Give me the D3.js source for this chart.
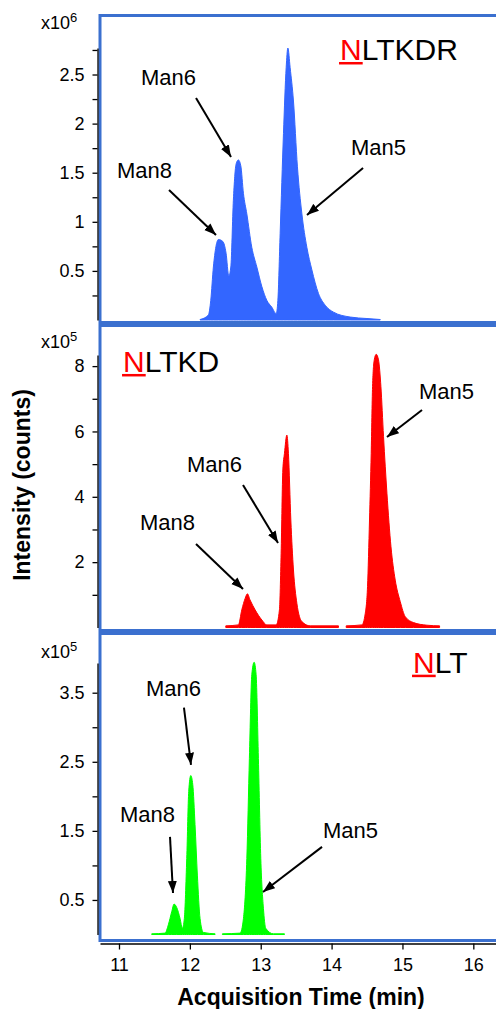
<!DOCTYPE html>
<html><head><meta charset="utf-8">
<script src="https://cdn.jsdelivr.net/npm/d3@7"></script>
<style>body{margin:0;background:#fff}svg{display:block}</style>
</head><body>
<svg id="c" width="496" height="1009"></svg>
<script>
// ---------------- DATA ----------------
const timeTicks = [11, 12, 13, 14, 15, 16];

// NLTKDR (x10^6 counts)
const nltkdrTime = [12.144,12.261,12.295,12.332,12.403,12.465,12.511,12.549,12.578,12.614,12.653,12.685,12.719,12.756,12.804,12.874,12.945,13.016,13.086,13.157,13.218,13.242,13.274,13.321,13.359,13.383,13.415,13.462,13.518,13.581,13.651,13.722,13.815,13.910,14.027,14.263,14.499,14.686];
const nltkdrIntensity = [0.005,0.05,0.2,0.54,0.82,0.80,0.68,0.45,0.54,1.22,1.59,1.63,1.57,1.29,1.08,0.74,0.54,0.34,0.2,0.13,0.065,0.2,0.88,1.9,2.57,2.77,2.57,2.23,1.56,1.08,0.74,0.51,0.27,0.15,0.08,0.03,0.015,0.005];
const nltkdrMajorTicks = [0.5, 1, 1.5, 2, 2.5];
const nltkdrTickLabels = ["0.5", "1", "1.5", "2", "2.5"];
const nltkdrMinorTicks = [0.25, 0.75, 1.25, 1.75, 2.25, 2.75];

// NLTKD (x10^5 counts), two acquisition segments
const nltkdTime1 = [12.507,12.685,12.733,12.780,12.812,12.850,12.921,13.016,13.086,13.218,13.264,13.288,13.312,13.335,13.369,13.391,13.425,13.462,13.510,13.581,13.698,14.097];
const nltkdIntensity1 = [0.05,0.08,0.54,0.89,1.03,0.84,0.54,0.23,0.08,0.08,0.54,2.27,4.82,5.33,5.89,5.33,3.29,1.76,0.74,0.18,0.05,0.05];
const nltkdTime2 = [14.206,14.428,14.475,14.507,14.535,14.559,14.578,14.602,14.630,14.662,14.696,14.733,14.781,14.838,14.898,14.969,15.040,15.157,15.346,15.524];
const nltkdIntensity2 = [0.05,0.08,0.43,1.25,3.29,5.33,7.37,8.19,8.36,8.19,7.37,5.84,4.11,2.47,1.45,0.79,0.33,0.15,0.07,0.05];
const nltkdMajorTicks = [2, 4, 6, 8];
const nltkdTickLabels = ["2", "4", "6", "8"];
const nltkdMinorTicks = [1, 3, 5, 7];

// NLT (x10^5 counts), two acquisition segments
const nltTime1 = [11.462,11.650,11.696,11.744,11.777,11.815,11.862,11.894,11.922,11.956,11.984,12.013,12.041,12.073,12.106,12.144,12.191,12.356];
const nltIntensity1 = [0.01,0.02,0.14,0.33,0.44,0.39,0.23,0.09,0.23,1.10,2.07,2.30,2.17,1.59,0.86,0.23,0.03,0.01];
const nltTime2 = [12.459,12.709,12.756,12.804,12.840,12.874,12.907,12.935,12.967,13.001,13.038,13.071,13.179,13.335];
const nltIntensity2 = [0.01,0.02,0.23,1.10,2.55,3.76,3.94,3.76,2.55,1.10,0.38,0.09,0.01,0.01];
const nltMajorTicks = [0.5, 1.5, 2.5, 3.5];
const nltTickLabels = ["0.5", "1.5", "2.5", "3.5"];
const nltMinorTicks = [1, 2, 3];

// Annotations in data coordinates: [time, intensity]
const nltkdrNotes = [
  {label: "Man8", text: [10.972, 1.446], from: [11.706, 1.324], to: [12.369, 0.866]},
  {label: "Man6", text: [11.311, 2.393], from: [12.087, 2.261], to: [12.581, 1.660]},
  {label: "Man5", text: [14.274, 1.680], from: [14.444, 1.548], to: [13.653, 1.069]}
];
const nltkdNotes = [
  {label: "Man8", text: [11.297, 2.984], from: [12.087, 2.556], to: [12.750, 1.178]},
  {label: "Man6", text: [11.960, 4.760], from: [12.750, 4.362], to: [13.244, 2.586]},
  {label: "Man5", text: [15.234, 6.994], from: [15.276, 6.657], to: [14.782, 5.831]}
];
const nltNotes = [
  {label: "Man8", text: [11.014, 1.630], from: [11.720, 1.413], to: [11.762, 0.601]},
  {label: "Man6", text: [11.381, 3.457], from: [11.917, 3.283], to: [12.016, 2.457]},
  {label: "Man5", text: [13.879, 1.399], from: [13.865, 1.268], to: [13.032, 0.616]}
];
const peptideTitles = [["N", "LTKDR"], ["N", "LTKD"], ["N", "LT"]];
const titlePositions = [[14.119, 2.648], [11.057, 7.821], [15.149, 3.790]];
const exponents = ["6", "5", "5"];

// ---------------- LAYOUT / STYLE ----------------
const FONT = "'Liberation Sans', Arial, Helvetica, sans-serif";
const svg = d3.select("#c");
const x = d3.scaleLinear().domain([10.732, 16.32]).range([100, 496]);

const panels = [
  {segs: [[nltkdrTime, nltkdrIntensity]], color: "#3366ff", max: 2.77, range: [320, 48],
   box: [15.5, 322.5], major: nltkdrMajorTicks, labels: nltkdrTickLabels, minor: nltkdrMinorTicks,
   notes: nltkdrNotes, title: peptideTitles[0], titlePos: titlePositions[0], exp: exponents[0], expY: 29},
  {segs: [[nltkdTime1, nltkdIntensity1], [nltkdTime2, nltkdIntensity2]], color: "#ff0000", max: 8.34, range: [627.5, 355],
   box: [325.5, 630.5], major: nltkdMajorTicks, labels: nltkdTickLabels, minor: nltkdMinorTicks,
   notes: nltkdNotes, title: peptideTitles[1], titlePos: titlePositions[1], exp: exponents[1], expY: 348},
  {segs: [[nltTime1, nltIntensity1], [nltTime2, nltIntensity2]], color: "#00ff00", max: 3.93, range: [934.5, 663],
   box: [633.5, 940.5], major: nltMajorTicks, labels: nltTickLabels, minor: nltMinorTicks,
   notes: nltNotes, title: peptideTitles[2], titlePos: titlePositions[2], exp: exponents[2], expY: 658}
];

const defs = svg.append("defs");
defs.append("marker").attr("id", "arr").attr("markerUnits", "userSpaceOnUse")
  .attr("viewBox", "0 -5 12 10").attr("refX", 12).attr("refY", 0)
  .attr("markerWidth", 12).attr("markerHeight", 10).attr("orient", "auto")
  .append("path").attr("d", "M0,-4.5L12,0L0,4.5Z").attr("fill", "#000");

panels.forEach(p => {
  const y = d3.scaleLinear().domain([0, p.max]).range(p.range);
  const g = svg.append("g");

  // traces
  const area = d3.area().x(d => x(d[0])).y0(y(0)).y1(d => y(d[1])).curve(d3.curveMonotoneX);
  p.segs.forEach(([ts, vs]) => {
    const pts = ts.map((t, i) => [t, vs[i]]);
    g.append("path").attr("d", area(pts)).attr("fill", p.color)
      .attr("stroke", p.color).attr("stroke-width", 1);
  });

  // border
  g.append("rect").attr("x", 100).attr("y", p.box[0]).attr("width", 420).attr("height", p.box[1] - p.box[0])
    .attr("fill", "none").attr("stroke", "#3b70cf").attr("stroke-width", 3);

  // y axis
  const all = p.major.concat(p.minor).sort((a, b) => a - b);
  const ax = d3.axisLeft(y).tickValues(all).tickSize(5).tickSizeOuter(0).tickPadding(8)
    .tickFormat(v => { const i = p.major.indexOf(v); return i >= 0 ? p.labels[i] : ""; });
  const ag = g.append("g").attr("transform", "translate(97.5,0)").call(ax);
  ag.selectAll("path,line").attr("stroke", "#000").attr("stroke-width", 1.3);
  ag.selectAll("text").attr("font-family", FONT).attr("font-size", 18).attr("fill", "#000");

  // exponent label
  const et = g.append("text").attr("x", 41).attr("y", p.expY).attr("font-family", FONT)
    .attr("font-size", 18).attr("fill", "#000").text("x10");
  et.append("tspan").attr("font-size", 13).attr("dy", -7).text(p.exp);

  // title
  const tx = x(p.titlePos[0]), ty = y(p.titlePos[1]);
  const tt = g.append("text").attr("x", tx).attr("y", ty).attr("font-family", FONT).attr("font-size", 30);
  const nSpan = tt.append("tspan").attr("fill", "#ff0000").text(p.title[0]);
  tt.append("tspan").attr("fill", "#000").text(p.title[1]);
  const nw = nSpan.node().getComputedTextLength();
  g.append("rect").attr("x", tx - 1).attr("y", ty + 2).attr("width", nw + 2).attr("height", 2.5).attr("fill", "#ff0000");

  // annotations
  p.notes.forEach(n => {
    g.append("text").attr("x", x(n.text[0])).attr("y", y(n.text[1])).attr("font-family", FONT)
      .attr("font-size", 22).attr("fill", "#000").text(n.label);
    g.append("line").attr("x1", x(n.from[0])).attr("y1", y(n.from[1]))
      .attr("x2", x(n.to[0])).attr("y2", y(n.to[1]))
      .attr("stroke", "#000").attr("stroke-width", 2).attr("marker-end", "url(#arr)");
  });
});

// x axis
const xa = d3.axisBottom(x).tickValues(timeTicks).tickSize(6).tickSizeOuter(0).tickPadding(9).tickFormat(d3.format("d"));
const xg = svg.append("g").attr("transform", "translate(0,943.5)").call(xa);
xg.selectAll("path,line").attr("stroke", "#000").attr("stroke-width", 1.3);
xg.selectAll("text").attr("font-family", FONT).attr("font-size", 18).attr("fill", "#000");

svg.append("text").attr("x", 301).attr("y", 1005).attr("text-anchor", "middle")
  .attr("font-family", FONT).attr("font-weight", "bold").attr("font-size", 23).text("Acquisition Time (min)");
svg.append("text").attr("transform", "translate(30,485) rotate(-90)").attr("text-anchor", "middle")
  .attr("font-family", FONT).attr("font-weight", "bold").attr("font-size", 23).text("Intensity (counts)");
</script>
</body></html>
